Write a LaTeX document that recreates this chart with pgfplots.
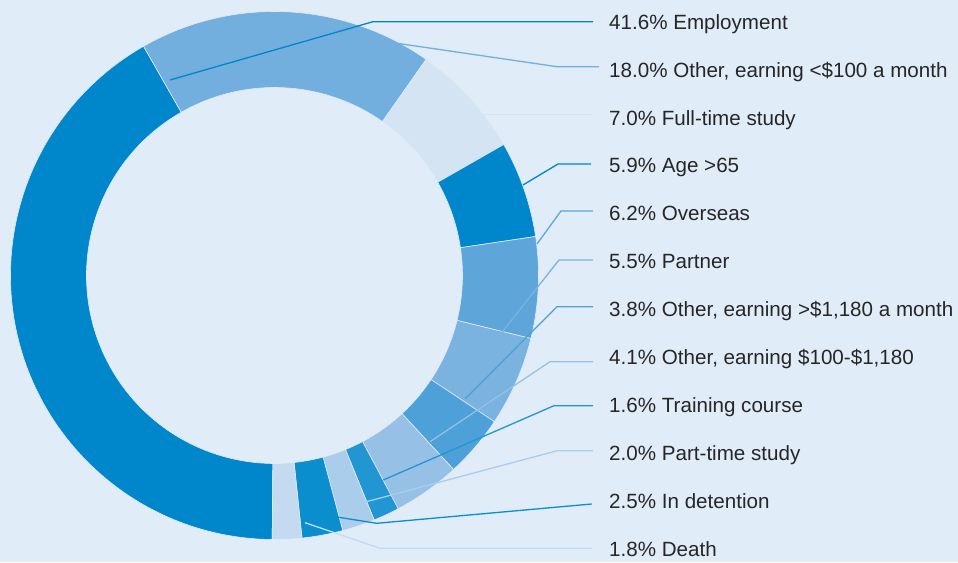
\documentclass[border=0pt]{standalone}
\usepackage{pgfplots}
\pgfplotsset{compat=1.18}
\usepackage{fontspec}
\setmainfont{Liberation Sans}
\definecolor{bgc}{HTML}{E0ECF8}
\definecolor{txt}{HTML}{262626}
\definecolor{cEmp}{HTML}{0086CA}
\definecolor{cOth}{HTML}{72AFDE}
\definecolor{cFts}{HTML}{D4E4F3}
\definecolor{cAge}{HTML}{0086CA}
\definecolor{cOve}{HTML}{5EA6D9}
\definecolor{cPar}{HTML}{7AB2E0}
\definecolor{cHi}{HTML}{4DA1D8}
\definecolor{cMid}{HTML}{96C0E6}
\definecolor{cTra}{HTML}{2196D2}
\definecolor{cPts}{HTML}{AACDEC}
\definecolor{cDet}{HTML}{0A8ECE}
\definecolor{cDea}{HTML}{C4DAF0}
\begin{document}
\begin{tikzpicture}
\begin{axis}[
  x=1pt, y=1pt,
  xmin=0, xmax=958, ymin=0, ymax=562,
  enlargelimits=false,
  hide axis, clip=false,
]
\fill[bgc] (axis cs:0,0) rectangle (axis cs:958,562);
% donut from the data (percent shares), clockwise from the bottom
\pgfplotsextra{
  \xdef\angA{269.5}
  \foreach \v/\col in {41.6/cEmp, 18.0/cOth, 7.0/cFts, 5.9/cAge, 6.2/cOve, 5.5/cPar, 3.8/cHi, 4.1/cMid, 1.6/cTra, 2.0/cPts, 2.5/cDet, 1.8/cDea}{
    \pgfmathsetmacro\angB{\angA-3.6*\v}
    \filldraw[fill=\col, draw=bgc, line width=0.6pt] (axis cs:274.5,286.5) ++(\angA:264pt)
      arc[start angle=\angA, end angle=\angB, radius=264pt]
      -- ++(\angB:-76pt)
      arc[start angle=\angB, end angle=\angA, radius=188pt] -- cycle;
    \xdef\angA{\angB}
  }
}
% leader lines
\addplot[cEmp, line width=1.3pt, no marks] coordinates {(593,540.3) (373,540.3) (170,482)};
\addplot[cOth, line width=1.3pt, no marks] coordinates {(599,495.3) (557,495.3) (395,519)};
\addplot[cFts, line width=1.3pt, no marks] coordinates {(593,447.5) (483,447.5)};
\addplot[cAge, line width=1.3pt, no marks] coordinates {(591,398) (558,398) (523,377)};
\addplot[cOve, line width=1.3pt, no marks] coordinates {(593,351) (561,351) (537,318)};
\addplot[cPar, line width=1.3pt, no marks] coordinates {(593,302) (559,302) (499,226)};
\addplot[cHi, line width=1.3pt, no marks] coordinates {(593,255.3) (557,255.3) (465,163)};
\addplot[cMid, line width=1.3pt, no marks] coordinates {(593,200.3) (550,200.3) (430,120.3)};
\addplot[cTra, line width=1.3pt, no marks] coordinates {(593,156.3) (554,156.3) (383.3,82)};
\addplot[cPts, line width=1.3pt, no marks] coordinates {(593,111.3) (557.3,111.3) (362.7,59.3)};
\addplot[cDet, line width=1.3pt, no marks] coordinates {(591.7,58) (376.7,38.7) (335,45.3)};
\addplot[cDea, line width=1.3pt, no marks] coordinates {(591.7,13.7) (380,13.7) (305,39.3)};
% labels
\begin{scope}[every node/.style={anchor=base west, inner sep=0pt, text=txt, font=\fontsize{20.6}{24}\selectfont}]
\node at (axis cs:609,532.7) {41.6\% Employment};
\node at (axis cs:609,484.8) {18.0\% Other, earning <\$100 a month};
\node at (axis cs:609,436.9) {7.0\% Full-time study};
\node at (axis cs:609,389.0) {5.9\% Age >65};
\node at (axis cs:609,341.1) {6.2\% Overseas};
\node at (axis cs:609,293.2) {5.5\% Partner};
\node at (axis cs:609,245.3) {3.8\% Other, earning >\$1,180 a month};
\node at (axis cs:609,197.4) {4.1\% Other, earning \$100-\$1,180};
\node at (axis cs:609,149.5) {1.6\% Training course};
\node at (axis cs:609,101.6) {2.0\% Part-time study};
\node at (axis cs:609,53.7) {2.5\% In detention};
\node at (axis cs:609,5.8) {1.8\% Death};
\end{scope}
\end{axis}
\pgfresetboundingbox
\useasboundingbox (0,0) rectangle (958pt,562pt);
\end{tikzpicture}
\end{document}
